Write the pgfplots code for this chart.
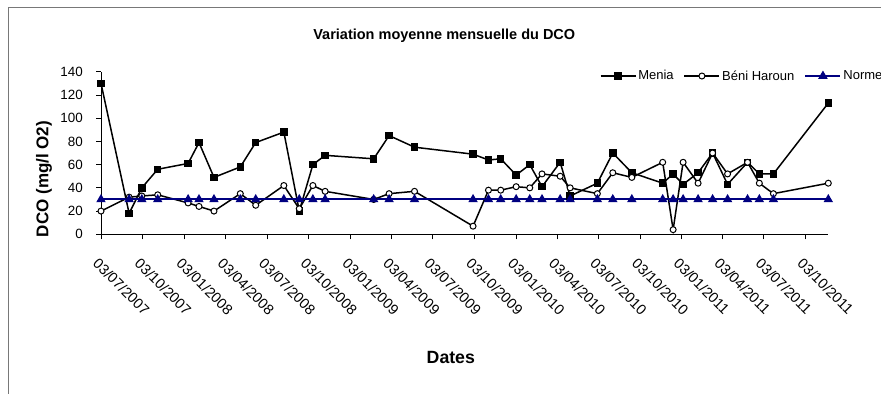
\documentclass[border=0pt]{standalone}
\usepackage{fontspec}
\setmainfont{Liberation Sans}
\usepackage{pgfplots}
\pgfplotsset{compat=1.18}
\definecolor{norme}{RGB}{0,0,128}
\definecolor{framegray}{RGB}{120,120,120}
\pgfplotsset{longline legend/.style={legend image code/.code={\draw[mark repeat=2,mark phase=2,##1] plot coordinates {(0bp,0bp) (17.5bp,0bp) (35bp,0bp)};}}}

\pgfplotstableread{
day menia beni norme
0    130 20 30
62   18  32 30
90   40  33 30
125  56  34 30
192  61  27 30
216  79  24 30
249  49  20 30
307  58  35 30
341  79  25 30
403  88  42 30
437  20  22 30
467  60  42 30
494  68  37 30
601  65  30 30
635  85  35 30
691  75  37 30
820  69  7  30
854  64  38 30
881  65  38 30
915  51  41 30
945  60  40 30
972  41  52 30
1012 62  50 30
1034 33  40 30
1094 44  35 30
1128 70  53 30
1170 53  49 30
1238 44  62 30
1261 52  4  30
1283 43  62 30
1316 53  44 30
1348 70  70 30
1381 43  52 30
1425 62  62 30
1451 52  44 30
1482 52  35 30
1603 113 44 30
}\dcodata

\begin{document}
\begin{tikzpicture}
\useasboundingbox (0bp,0bp) rectangle (881bp,-394bp);
\clip (0bp,0bp) rectangle (881bp,-394bp);
\draw[line width=1bp, framegray] (8.3bp,-400bp) -- (8.3bp,-7.3bp) -- (890bp,-7.3bp);
\begin{axis}[
  at={(101bp,-234.3bp)}, anchor=south west,
  scale only axis, width=727.3bp, height=162.6bp,
  xmin=0, xmax=1603, ymin=0, ymax=140,
  clip=false,
  axis x line*=bottom, axis y line*=left,
  axis line style={line width=0.8bp, -},
  tick style={black, line width=0.8bp},
  tick align=outside, major tick length=5bp,
  /pgf/number format/assume math mode=true,
  xtick={0,92,184,275,366,458,550,640,731,823,915,1005,1096,1188,1280,1370,1461,1553},
  xticklabels={03/07/2007,03/10/2007,03/01/2008,03/04/2008,03/07/2008,03/10/2008,03/01/2009,03/04/2009,03/07/2009,03/10/2009,03/01/2010,03/04/2010,03/07/2010,03/10/2010,03/01/2011,03/04/2011,03/07/2011,03/10/2011},
  ytick={0,20,...,140},
  xticklabel style={xshift=-1.5bp, yshift=-17.7bp, rotate=-45, anchor=north west, inner sep=0pt, font=\fontsize{14.5bp}{16bp}\selectfont},
  yticklabel style={xshift=-13bp, anchor=east, inner sep=0pt, font=\fontsize{13.4bp}{16bp}\selectfont},
  title={Variation moyenne mensuelle du DCO},
  every axis title/.style={at={(axis description cs:0.472,1.201)}, anchor=base, inner sep=0pt, font=\bfseries\fontsize{14.5bp}{17bp}\selectfont},
  xlabel={Dates},
  every axis x label/.style={at={(axis description cs:0.481,-0.7595)}, anchor=center, inner sep=0pt, font=\bfseries\fontsize{17.7bp}{20bp}\selectfont},
  legend columns=-1,
  legend style={at={(axis description cs:0.6855,0.9735)}, anchor=west, draw=none, fill=none,
    inner xsep=0pt, inner ysep=0pt, nodes={inner sep=2bp},
    font=\fontsize{13bp}{15bp}\selectfont,
    /tikz/every even column/.append style={column sep=8bp}},
]
\addplot[black, line width=1.5bp, mark=square*, mark size=3bp, mark options={solid, fill=black}, longline legend] table[x=day, y=menia] {\dcodata};
\addlegendentry{Menia}
\addplot[black, line width=1.5bp, mark=*, mark size=3bp, mark options={solid, fill=white, line width=1bp}, longline legend] table[x=day, y=beni] {\dcodata};
\addlegendentry{Béni Haroun}
\addplot[norme, line width=2bp, mark=triangle*, mark size=3.5bp, mark options={solid, fill=norme}, longline legend] table[x=day, y=norme] {\dcodata};
\addlegendentry{Norme}
\node[rotate=90, anchor=center, inner sep=0pt, font=\bfseries\fontsize{17bp}{19bp}\selectfont] at (axis description cs:-0.0784,0.340) {DCO (mg/l O2)};
\end{axis}
\end{tikzpicture}
\end{document}
